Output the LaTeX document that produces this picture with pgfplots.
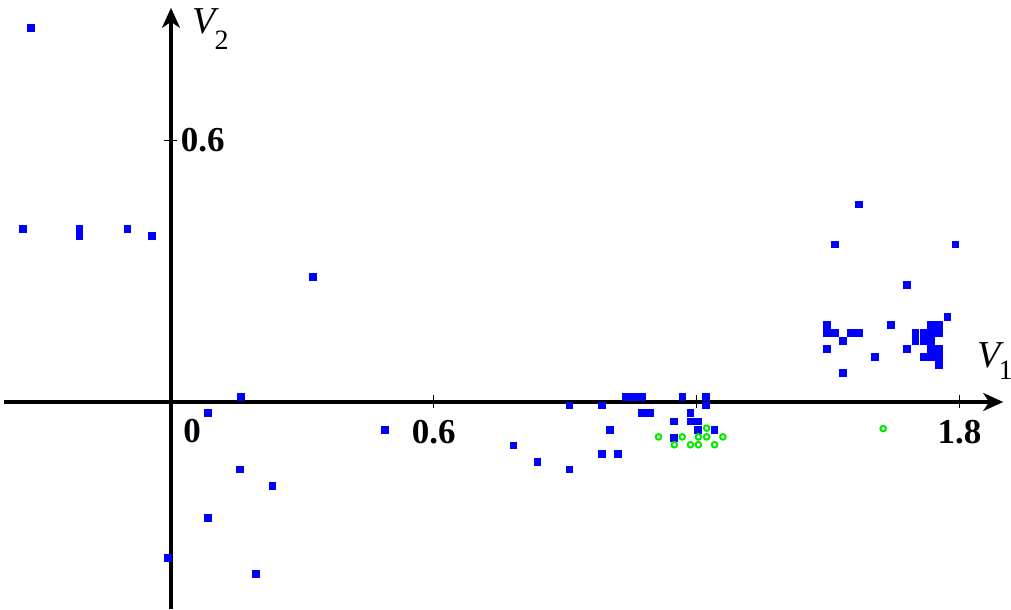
\documentclass[border=0pt]{standalone}
\usepackage{fontspec}
\setmainfont{Liberation Serif}
\usepackage{pgfplots}
\pgfplotsset{compat=1.18}
\usetikzlibrary{arrows.meta}
\definecolor{ptblue}{RGB}{0,0,255}
\definecolor{ptgreen}{RGB}{0,235,0}
\newcommand\Vlab[3]{{\fontsize{19}{19}\selectfont\itshape V}\kern#2\raisebox{#3}{\fontsize{14}{14}\selectfont #1}}
\begin{document}
\begin{tikzpicture}
\begin{axis}[
 x=219pt, y=218pt,
 axis lines=middle,
 xmin=-0.381, xmax=1.900, ymin=-0.4748, ymax=0.904,
 enlargelimits=false, clip=false,
 axis line style={line width=1.6pt, -{Stealth[length=10pt,width=9pt,inset=3pt]}},
 xtick={0.6,1.2,1.8}, xticklabels={0.6,,1.8},
 ytick={0.6}, yticklabels={0.6},
 tick align=center, major tick length=6.5pt,
 tick style={black, line width=0.5pt},
 ticklabel style={font=\fontsize{17.5}{17.5}\selectfont\bfseries, inner sep=0pt},
 x tick label style={anchor=north, yshift=-5.5pt},
 y tick label style={anchor=west, xshift=8pt},
]
\addplot[only marks, mark=square*, mark size=1.7pt, mark options={fill=ptblue, draw=ptblue, line width=0.1pt}] coordinates {
(-0.320,0.859) (-0.339,0.398) (-0.210,0.398) (-0.210,0.381) (-0.100,0.398)
(-0.044,0.381) (0.323,0.287) (0.158,0.012) (0.084,-0.025) (0.157,-0.154)
(0.231,-0.192) (0.084,-0.265) (-0.008,-0.357) (0.194,-0.394) (0.488,-0.063)
(1.038,0.012) (1.056,0.012) (1.075,0.012) (1.167,0.012) (1.221,0.012)
(0.909,-0.007) (0.983,-0.007) (1.221,-0.007) (1.075,-0.025) (1.093,-0.025)
(1.185,-0.025) (1.148,-0.044) (1.185,-0.044) (1.203,-0.044) (1.002,-0.063)
(1.203,-0.063) (1.240,-0.063) (0.781,-0.099) (1.148,-0.081) (0.836,-0.136)
(0.983,-0.118) (1.020,-0.118) (0.909,-0.154)
(1.570,0.454) (1.515,0.362) (1.790,0.362) (1.680,0.269) (1.772,0.196)
(1.497,0.177) (1.643,0.177) (1.735,0.177) (1.753,0.177)
(1.497,0.159) (1.515,0.159) (1.552,0.159) (1.570,0.159) (1.699,0.159) (1.717,0.159) (1.735,0.159) (1.753,0.159)
(1.534,0.141) (1.699,0.141) (1.717,0.141) (1.735,0.141)
(1.497,0.122) (1.680,0.122) (1.735,0.122) (1.753,0.122)
(1.607,0.104) (1.717,0.104) (1.735,0.104) (1.753,0.104)
(1.753,0.086) (1.534,0.067)
};
\addplot[only marks, mark=o, mark size=1.4pt, mark options={draw=ptgreen, line width=1pt}] coordinates {
(1.113,-0.080) (1.167,-0.080) (1.204,-0.080) (1.223,-0.060) (1.223,-0.080)
(1.260,-0.080) (1.149,-0.098) (1.186,-0.098) (1.204,-0.098) (1.241,-0.098)
(1.626,-0.061)
};
\node[anchor=north west, inner sep=0pt, xshift=6pt, yshift=-8.5pt, font=\fontsize{17.5}{17.5}\selectfont\bfseries] at (axis cs:0,0) {0};
\node[anchor=base west, inner sep=0pt] at (axis cs:1.840,0.078) {\Vlab{1}{-1pt}{-6pt}};
\node[anchor=base west, inner sep=0pt] at (axis cs:0.048,0.846) {\Vlab{2}{-0.5pt}{-8pt}};
\coordinate (BL) at (axis cs:-0.3904,-0.4748);
\coordinate (TR) at (axis cs:1.9178,0.922);
\end{axis}
\pgfresetboundingbox
\path[use as bounding box] (BL) rectangle (TR);
\end{tikzpicture}
\end{document}
